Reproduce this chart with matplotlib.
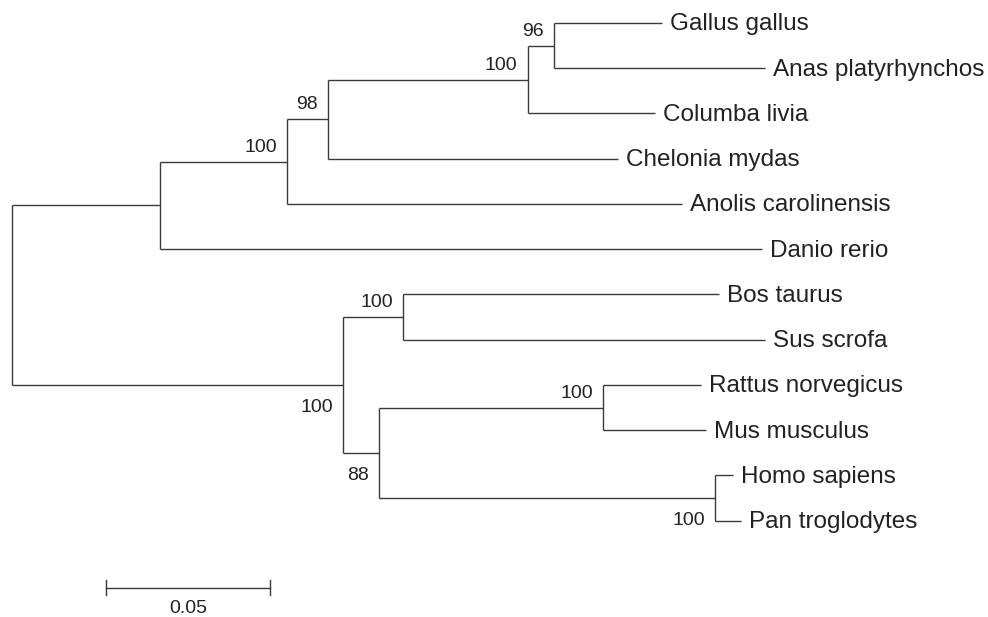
import matplotlib
matplotlib.use("Agg")
import matplotlib.pyplot as plt

# ---------------- data ----------------
taxa = ["Gallus gallus", "Anas platyrhynchos", "Columba livia", "Chelonia mydas",
        "Anolis carolinensis", "Danio rerio", "Bos taurus", "Sus scrofa",
        "Rattus norvegicus", "Mus musculus", "Homo sapiens", "Pan troglodytes"]

internal = ["root", "n1", "n2", "n3", "n4", "n5", "n6", "n7", "n8", "n9", "n10"]
internal_parent = [None, "root", "n1", "n2", "n3", "n4", "root", "n6", "n6", "n8", "n8"]
internal_length = [0.0, 0.0450, 0.0387, 0.0125, 0.0607, 0.0080,
                   0.1007, 0.0184, 0.0110, 0.0683, 0.1023]
bootstrap = [None, None, 100, 98, 100, 96, 100, 100, 88, 100, 100]

leaf_parent = ["n5", "n5", "n4", "n3", "n2", "n1", "n7", "n7", "n9", "n9", "n10", "n10"]
leaf_length = [0.0328, 0.0642, 0.0387, 0.0881, 0.1202, 0.1831,
               0.0962, 0.1101, 0.0298, 0.0313, 0.0055, 0.0080]

scale_bar_length = 0.05
scale_bar_label = "0.05"

# ---------------- build tree ----------------
parent = dict(zip(internal, internal_parent))
parent.update(dict(zip(taxa, leaf_parent)))
length = dict(zip(internal, internal_length))
length.update(dict(zip(taxa, leaf_length)))
support = dict(zip(internal, bootstrap))

children = {n: [] for n in internal}
for n in internal[1:] + taxa:
    children[parent[n]].append(n)

xpos = {}
def set_x(n, x):
    xpos[n] = x
    for c in children.get(n, []):
        set_x(c, x + length[c])
set_x("root", 0.0)

ypos = {t: i for i, t in enumerate(taxa)}
def set_y(n):
    if n in ypos:
        return ypos[n]
    ys = [set_y(c) for c in children[n]]
    ypos[n] = (min(ys) + max(ys)) / 2.0
    return ypos[n]
set_y("root")

# ---------------- draw ----------------
PX_PER_UNIT = 3286.0
PX_PER_ROW = 45.25
fig = plt.figure(figsize=(9.88, 6.17), dpi=100)
ax = fig.add_axes([0, 0, 1, 1])
ax.set_xlim(-12 / PX_PER_UNIT, 976 / PX_PER_UNIT)
ax.set_ylim((617 - 23) / PX_PER_ROW, -23 / PX_PER_ROW)
ax.axis("off")

lc = "#3a3a3a"
lw = 1.0
font = "Liberation Sans"

for n in internal:
    kids = children[n]
    ys = [ypos[c] for c in kids]
    ax.plot([xpos[n], xpos[n]], [min(ys), max(ys)], color=lc, lw=lw, solid_capstyle="butt")
    for c in kids:
        ax.plot([xpos[n], xpos[c]], [ypos[c], ypos[c]], color=lc, lw=lw, solid_capstyle="butt")

for t in taxa:
    ax.annotate(t, (xpos[t], ypos[t]), xytext=(8, -7.5), textcoords="offset pixels",
                ha="left", va="baseline", fontsize=17.5, family=font, color="#222222")

for n in internal:
    if support[n] is None:
        continue
    sibs = children[parent[n]]
    upper = ypos[n] <= min(ypos[s] for s in sibs)
    dy = 10 if upper else -27
    ax.annotate(str(support[n]), (xpos[n], ypos[n]), xytext=(-10, dy),
                textcoords="offset pixels", ha="right", va="baseline",
                fontsize=14, family=font, color="#222222")

# scale bar
sb_x0 = (105.7 - 12) / PX_PER_UNIT
sb_y = (587.7 - 23) / PX_PER_ROW
tick = 7.5 / PX_PER_ROW
ax.plot([sb_x0, sb_x0 + scale_bar_length], [sb_y, sb_y], color=lc, lw=lw)
for xx in (sb_x0, sb_x0 + scale_bar_length):
    ax.plot([xx, xx], [sb_y - tick, sb_y + tick], color=lc, lw=lw)
ax.annotate(scale_bar_label, (sb_x0 + scale_bar_length / 2, sb_y), xytext=(0, -25),
            textcoords="offset pixels", ha="center", va="baseline",
            fontsize=14, family=font, color="#222222")

fig.savefig("out.png", dpi=100)
